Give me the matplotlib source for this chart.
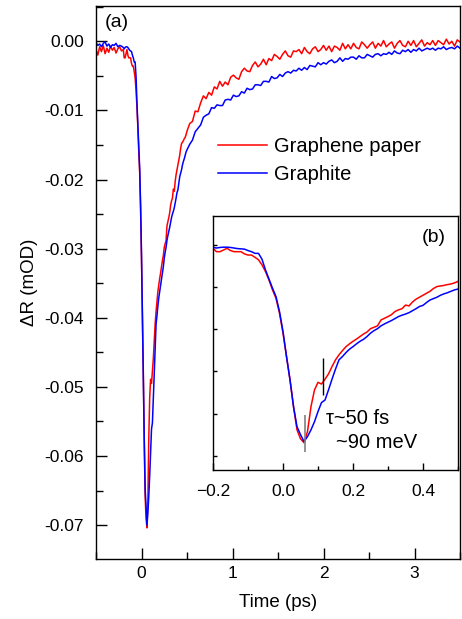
import numpy as np
import matplotlib
matplotlib.use("Agg")
import matplotlib.pyplot as plt
from matplotlib.ticker import MultipleLocator, NullFormatter, FuncFormatter

plt.rcParams['font.family'] = ['Liberation Sans', 'DejaVu Sans']

# ---------------- data ----------------
pre_t = np.round(np.arange(-0.50, -0.205, 0.02), 2)
dense_t = np.round(np.arange(-0.20, 0.505, 0.01), 2)
post_t = np.round(np.arange(0.53, 3.505, 0.03), 2)

red_pre = [-0.0012, -0.0020, -0.0008, -0.0015, -0.0006, -0.0018, -0.0010, -0.0016,
           -0.0007, -0.0013, -0.0009, -0.0017, -0.0011, -0.0008, -0.0014]
blue_pre = [-0.0002, -0.0006, -0.0004, -0.0008, -0.0003, -0.0001, -0.0007, -0.0004,
            -0.0009, -0.0005, -0.0006, -0.0003, -0.0008, -0.0006, -0.0007]

red_dense = [-0.0012, -0.0024, -0.0024, -0.0018, -0.0012, -0.0020, -0.0024, -0.0024, -0.0024, -0.0032,
             -0.0036, -0.0036, -0.0044, -0.0053, -0.0071, -0.0095, -0.0125, -0.0160, -0.0190, -0.0243,
             -0.0314, -0.0397, -0.0480, -0.0575, -0.0658, -0.0690, -0.0704, -0.0664, -0.0575, -0.0516,
             -0.0489, -0.0495, -0.0478, -0.0459, -0.0433, -0.0409, -0.0391, -0.0376, -0.0362, -0.0352,
             -0.0343, -0.0335, -0.0326, -0.0317, -0.0310, -0.0298, -0.0293, -0.0288, -0.0267, -0.0261,
             -0.0255, -0.0248, -0.0237, -0.0231, -0.0227, -0.0214, -0.0217, -0.0203, -0.0193, -0.0186,
             -0.0179, -0.0172, -0.0165, -0.0155, -0.0148, -0.0146, -0.0144, -0.0141, -0.0139, -0.0135,
             -0.0130]
blue_dense = [-0.0009, -0.0011, -0.0009, -0.0008, -0.0008, -0.0009, -0.0011, -0.0013, -0.0014, -0.0015,
              -0.0020, -0.0024, -0.0030, -0.0030, -0.0051, -0.0089, -0.0122, -0.0154, -0.0184, -0.0237,
              -0.0308, -0.0397, -0.0480, -0.0575, -0.0647, -0.0675, -0.0700, -0.0682, -0.0658, -0.0629,
              -0.0593, -0.0561, -0.0552, -0.0516, -0.0478, -0.0442, -0.0409, -0.0397, -0.0383, -0.0371,
              -0.0362, -0.0352, -0.0343, -0.0336, -0.0326, -0.0314, -0.0305, -0.0298, -0.0288, -0.0281,
              -0.0275, -0.0269, -0.0262, -0.0255, -0.0250, -0.0246, -0.0241, -0.0234, -0.0227, -0.0219,
              -0.0215, -0.0205, -0.0196, -0.0191, -0.0186, -0.0179, -0.0174, -0.0170, -0.0165, -0.0160,
              -0.0157]

red_post = [-0.0119, -0.0116, -0.0101, -0.0102, -0.0089, -0.0079, -0.0083, -0.0074, -0.0078, -0.0066,
            -0.0069, -0.0058, -0.0065, -0.0059, -0.0063, -0.0052, -0.0049, -0.0053, -0.0055, -0.0044,
            -0.0039, -0.0043, -0.0044, -0.0035, -0.0030, -0.0037, -0.0033, -0.0026, -0.0034, -0.0025,
            -0.0028, -0.0019, -0.0022, -0.0026, -0.0019, -0.0014, -0.0021, -0.0023, -0.0014, -0.0015,
            -0.0012, -0.0018, -0.0009, -0.0015, -0.0018, -0.0011, -0.0008, -0.0015, -0.0012, -0.0006,
            -0.0013, -0.0007, -0.0015, -0.0007, -0.0009, -0.0013, -0.0003, -0.0011, -0.0005, -0.0011,
            -0.0003, -0.0009, -0.0011, -0.0001, -0.0005, -0.0010, -0.0005, -0.0001, -0.0010, -0.0003,
            -0.0007, 0.0001, -0.0008, -0.0004, -0.0001, -0.0010, -0.0003, 0.0001, -0.0006, -0.0008,
            0.0000, -0.0006, 0.0001, -0.0008, -0.0003, 0.0002, -0.0007, -0.0002, -0.0005, 0.0001,
            -0.0006, 0.0001, -0.0002, -0.0005, 0.0003, -0.0004, 0.0000, -0.0007, 0.0002, -0.0001]
blue_post = [-0.0149, -0.0143, -0.0131, -0.0126, -0.0121, -0.0110, -0.0107, -0.0105, -0.0096, -0.0097,
             -0.0092, -0.0093, -0.0093, -0.0085, -0.0084, -0.0085, -0.0078, -0.0080, -0.0079, -0.0073,
             -0.0075, -0.0068, -0.0070, -0.0069, -0.0063, -0.0063, -0.0064, -0.0058, -0.0058, -0.0059,
             -0.0051, -0.0054, -0.0053, -0.0048, -0.0051, -0.0046, -0.0044, -0.0046, -0.0042, -0.0043,
             -0.0039, -0.0042, -0.0038, -0.0041, -0.0035, -0.0036, -0.0037, -0.0031, -0.0034, -0.0031,
             -0.0033, -0.0029, -0.0027, -0.0031, -0.0029, -0.0024, -0.0029, -0.0025, -0.0026, -0.0023,
             -0.0023, -0.0026, -0.0021, -0.0024, -0.0024, -0.0019, -0.0021, -0.0023, -0.0019, -0.0018,
             -0.0021, -0.0018, -0.0019, -0.0016, -0.0019, -0.0014, -0.0017, -0.0018, -0.0013, -0.0015,
             -0.0012, -0.0016, -0.0012, -0.0014, -0.0010, -0.0014, -0.0012, -0.0010, -0.0012, -0.0010,
             -0.0013, -0.0010, -0.0011, -0.0008, -0.0012, -0.0010, -0.0009, -0.0011, -0.0007, -0.0010]

time = np.concatenate([pre_t, dense_t, post_t])
graphene_paper = np.array(red_pre + red_dense + red_post)
graphite = np.array(blue_pre + blue_dense + blue_post)

labels = ["Graphene paper", "Graphite"]
colors = ["#ff0000", "#0000ff"]

# annotation marks in inset (time, ymin, ymax)
mark_gray = (0.062, -0.0738, -0.0605)
mark_black = (0.115, -0.0534, -0.0403)

# ---------------- figure ----------------
W, H = 462, 619
fig = plt.figure(figsize=(W / 100, H / 100), dpi=100)

def fr(l, t, r, b):
    return [l / W, 1 - b / H, (r - l) / W, (b - t) / H]

ax = fig.add_axes(fr(96, 6, 460, 559))
for y, c, lab in zip([graphene_paper, graphite], colors, labels):
    ax.plot(time, y, color=c, lw=1.1, label=lab)
ax.set_xlim(-0.5, 3.5)
ax.set_ylim(-0.0749, 0.0051)
ax.xaxis.set_major_locator(MultipleLocator(1))
ax.xaxis.set_minor_locator(MultipleLocator(0.5))
ax.yaxis.set_major_locator(MultipleLocator(0.01))
ax.yaxis.set_minor_locator(MultipleLocator(0.005))
ax.yaxis.set_major_formatter(FuncFormatter(lambda v, p: f"{v:.2f}"))
ax.tick_params(which='both', direction='in', top=False, right=False, labelsize=12.5, width=1.0)
ax.tick_params(axis='x', which='major', length=8, pad=5)
ax.tick_params(axis='y', which='major', length=8, pad=8.5)
ax.tick_params(which='minor', length=5)
for s in ax.spines.values():
    s.set_linewidth(1.0)
ax.set_xlabel("Time (ps)", fontsize=13.5, labelpad=9.5)
ax.set_ylabel("ΔR (mOD)", fontsize=13.5, labelpad=5)
ax.text(0.025, 0.985, "(a)", transform=ax.transAxes, fontsize=14, va='top', ha='left')
leg = ax.legend(loc='upper left', bbox_to_anchor=(0.335, 0.763), frameon=False, fontsize=14.5,
                handlelength=2.45, handletextpad=0.35, labelspacing=0.45, borderpad=0, borderaxespad=0)

# inset
ai = fig.add_axes(fr(213, 216, 458, 470))
for y, c in zip([graphene_paper, graphite], colors):
    ai.plot(time, y, color=c, lw=1.1)
ai.set_xlim(-0.2, 0.5)
ai.set_ylim(-0.0801, 0.0103)
ai.xaxis.set_major_locator(MultipleLocator(0.2))
ai.xaxis.set_minor_locator(MultipleLocator(0.1))
ai.yaxis.set_major_locator(MultipleLocator(0.015))
ai.yaxis.set_major_formatter(NullFormatter())
ai.tick_params(which='both', direction='in', top=False, right=False, labelsize=12.5, width=1.0)
ai.tick_params(axis='x', which='major', length=5, pad=10)
ai.tick_params(axis='x', which='minor', length=3)
ai.tick_params(axis='y', which='major', length=3)
for s in ai.spines.values():
    s.set_linewidth(1.0)
ai.text(0.95, 0.95, "(b)", transform=ai.transAxes, fontsize=14, va='top', ha='right')
ai.vlines(mark_gray[0], mark_gray[1], mark_gray[2], color='#808080', lw=1.2)
ai.vlines(mark_black[0], mark_black[1], mark_black[2], color='black', lw=1.0)
ai.text(0.122, -0.0618, "τ~50 fs", fontsize=14.5, va='center', ha='left')
ai.text(0.152, -0.0702, "~90 meV", fontsize=14.5, va='center', ha='left')

fig.savefig("out.png", dpi=100)
